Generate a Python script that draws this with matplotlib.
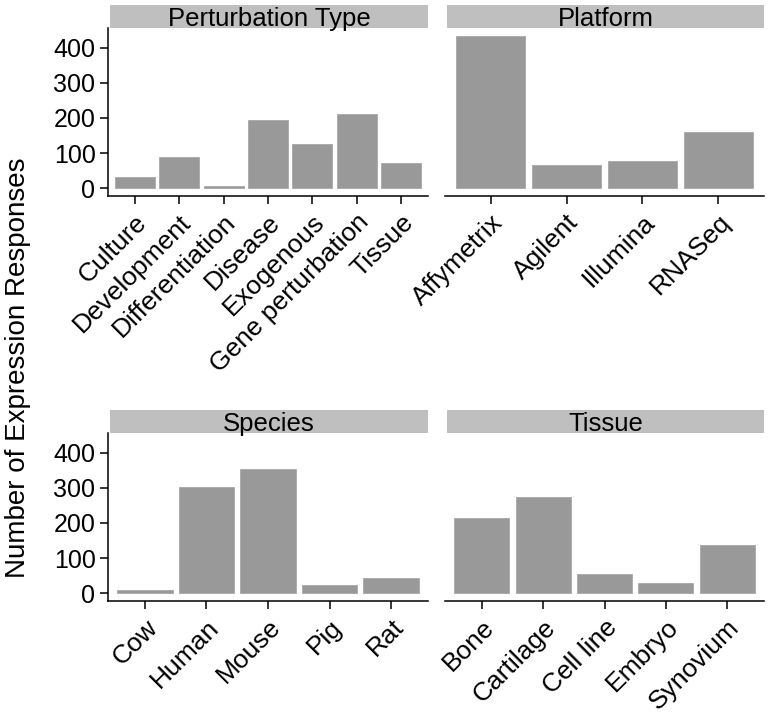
import matplotlib
matplotlib.use("Agg")
import matplotlib.pyplot as plt
import numpy as np

plt.rcParams['font.family'] = ['Liberation Sans', 'DejaVu Sans']

pert_cats = ["Culture", "Development", "Differentiation", "Disease", "Exogenous", "Gene perturbation", "Tissue"]
pert_vals = [31, 89, 6, 194, 127, 212, 73]
plat_cats = ["Affymetrix", "Agilent", "Illumina", "RNASeq"]
plat_vals = [434, 67, 78, 159]
spec_cats = ["Cow", "Human", "Mouse", "Pig", "Rat"]
spec_vals = [10, 303, 354, 24, 43]
tiss_cats = ["Bone", "Cartilage", "Cell line", "Embryo", "Synovium"]
tiss_vals = [215, 274, 54, 29, 138]
yticks = [0, 100, 200, 300, 400]

W, H = 772, 721
fig = plt.figure(figsize=(W / 100, H / 100), dpi=100)

def box(x0, y0, x1, y1):
    return [x0 / W, 1 - y1 / H, (x1 - x0) / W, (y1 - y0) / H]

ymax = max(pert_vals + plat_vals + spec_vals + tiss_vals)
ylim = (-0.05 * ymax, ymax * 1.05)

panels = [
    ("Perturbation Type", pert_cats, pert_vals, (108, 28, 428, 196), True),
    ("Platform", plat_cats, plat_vals, (445, 28, 764, 196), False),
    ("Species", spec_cats, spec_vals, (108, 433, 428, 601), True),
    ("Tissue", tiss_cats, tiss_vals, (445, 433, 764, 601), False),
]

FS = 18
XFS = 19
for title, cats, vals, (x0, y0, x1, y1), left in panels:
    ax = fig.add_axes(box(x0, y0, x1, y1))
    n = len(cats)
    ax.bar(np.arange(n), vals, width=0.9, color="#999999", edgecolor="#a8a8a8", linewidth=0.6)
    ax.set_xlim(-0.6, n - 0.4)
    ax.set_ylim(*ylim)
    ax.set_xticks(np.arange(n))
    ax.set_xticklabels(cats, rotation=45, ha="right", va="top", rotation_mode="anchor", fontsize=XFS)
    ax.spines["top"].set_visible(False)
    ax.spines["right"].set_visible(False)
    ax.spines["bottom"].set_linewidth(1.1)
    ax.spines["left"].set_linewidth(1.1)
    ax.tick_params(axis="x", length=6, width=1.1, pad=4, colors="black")
    if left:
        ax.set_yticks(yticks)
        ax.set_yticklabels([str(v) for v in yticks], fontsize=FS)
        ax.tick_params(axis="y", length=6, width=1.1, pad=3)
    else:
        ax.spines["left"].set_visible(False)
        ax.set_yticks([])
    # strip
    sax = fig.add_axes(box(x0 + 2, y0 - 23, x1, y0))
    sax.set_xlim(0, 1)
    sax.set_ylim(0, 1)
    sax.axis("off")
    sax.add_patch(plt.Rectangle((0, 0), 1, 1, color="#bfbfbf", transform=sax.transAxes))
    sax.text(0.5, 0.40, title, ha="center", va="center", fontsize=18.5)

fig.text(18 / W, 1 - 368 / H, "Number of Expression Responses", rotation=90,
         ha="center", va="center", fontsize=20)

fig.savefig("out.png", dpi=100)
